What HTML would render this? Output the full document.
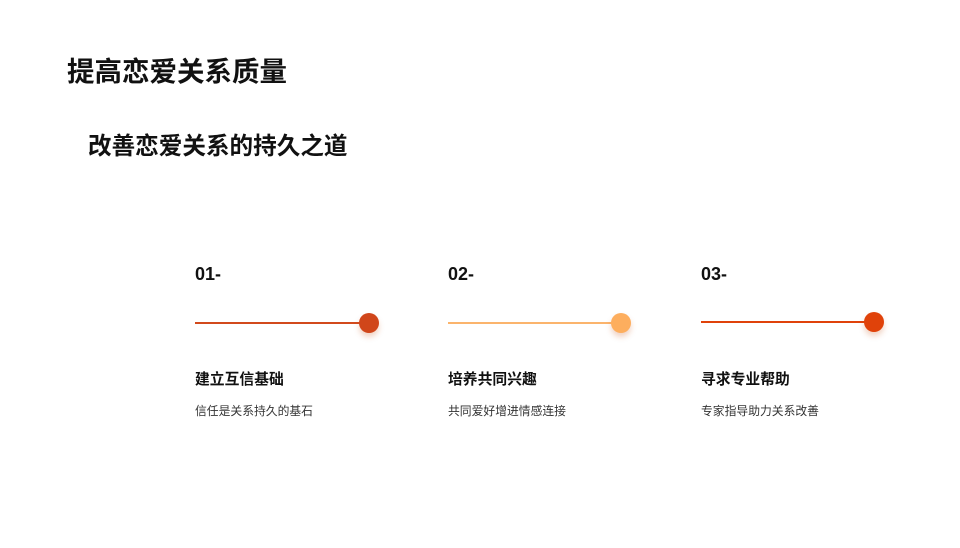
<!DOCTYPE html>
<html><head><meta charset="utf-8"><style>
body{margin:0;width:960px;height:548px;background:#fff;position:relative;overflow:hidden;font-family:"Liberation Sans","Noto Sans CJK SC",sans-serif;color:#111}
.a{position:absolute;white-space:nowrap}
.t{font-size:27.5px;font-weight:bold}
.n{font-size:18px;font-weight:bold}
.h{font-size:14.8px;font-weight:bold}
.d{font-size:11.8px;color:#333}
.l{position:absolute;height:2px}
.c{position:absolute;width:20px;height:20px;border-radius:50%;box-shadow:0 4px 6px rgba(200,80,20,.25)}
</style></head><body>
<div class="a t" style="left:67px;top:49px">提高恋爱关系质量</div>
<div class="a t" style="left:88px;top:127px;font-size:23.6px">改善恋爱关系的持久之道</div>

<div class="a n" style="left:195px;top:264px">01-</div>
<div class="l" style="left:195px;top:322px;width:170px;background:#d24a1c"></div>
<div class="c" style="left:359px;top:313px;background:#d0461a"></div>
<div class="a h" style="left:195px;top:368px">建立互信基础</div>
<div class="a d" style="left:195px;top:402px">信任是关系持久的基石</div>

<div class="a n" style="left:448px;top:264px">02-</div>
<div class="l" style="left:448px;top:322px;width:170px;background:#fbb46c"></div>
<div class="c" style="left:611px;top:313px;background:#fdae5e"></div>
<div class="a h" style="left:448px;top:368px">培养共同兴趣</div>
<div class="a d" style="left:448px;top:402px">共同爱好增进情感连接</div>

<div class="a n" style="left:701px;top:264px">03-</div>
<div class="l" style="left:701px;top:321px;width:170px;background:#e0420a"></div>
<div class="c" style="left:864px;top:312px;background:#e0420a"></div>
<div class="a h" style="left:701px;top:368px">寻求专业帮助</div>
<div class="a d" style="left:701px;top:402px">专家指导助力关系改善</div>
</body></html>
